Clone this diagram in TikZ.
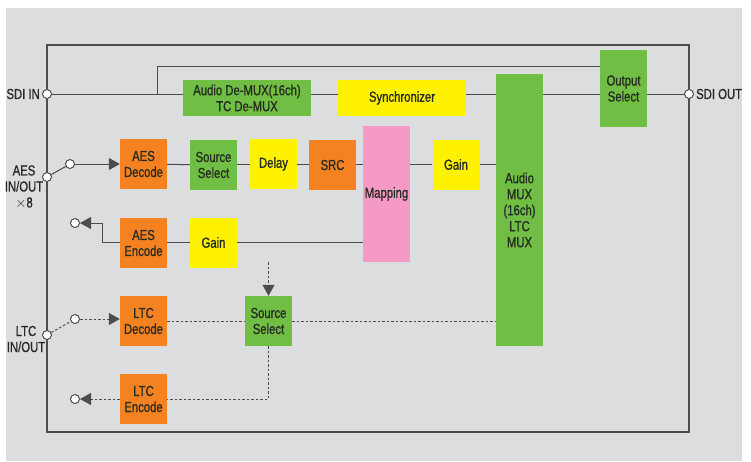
\documentclass[tikz,border=0pt]{standalone}
\usepackage{fontspec}
\setmainfont{Liberation Sans}[FakeStretch=0.78, FakeBold=1]
\usepackage{xcolor}
\definecolor{blkOrange}{HTML}{F58220}
\definecolor{blkGreen}{HTML}{70BF44}
\definecolor{blkYellow}{HTML}{FFF200}
\definecolor{blkPink}{HTML}{F49AC4}
\definecolor{blkBack}{HTML}{DCDDDF}
\definecolor{blkLine}{HTML}{4D4D4F}
\definecolor{blkText}{HTML}{262B22}
\usepackage{tikz}
\usetikzlibrary{arrows.meta,positioning}

\begin{document}
\begin{tikzpicture}[x=1pt, y=-1pt,
  blk/.style={inner sep=0pt, align=center, text=blkText, minimum width=47pt, minimum height=50pt},
  port/.style={circle, draw=blkLine, fill=white, line width=1pt, minimum size=9pt, inner sep=0pt},
  lbl/.style={inner sep=0pt, align=center, text=blkText},
  sig/.style={blkLine, line width=1pt},
  sigdash/.style={blkLine, line width=1pt, dash pattern=on 2.5pt off 2pt},
  tip/.style={-{Triangle[length=11pt,width=12pt]}}]
  \useasboundingbox (0,0) rectangle (751,461);
  \fill[blkBack] (6,8) rectangle (742,461);
  \fontsize{14.5}{16}\selectfont
  % ---------- frame ----------
  \draw[blkLine, line width=1.5pt] (47,45) rectangle (689,432);
  % ---------- blocks ----------
  \node[blk, fill=blkGreen, minimum width=128pt, minimum height=36pt] (demux) at (247,98) {Audio De-MUX(16ch)\\TC De-MUX};
  \node[blk, fill=blkYellow, minimum width=128pt, minimum height=36pt] (sync) at (402,98) {Synchronizer};
  \node[blk, fill=blkGreen, minimum height=272pt] (mux) at (519.5,210) {Audio\\MUX\\(16ch)\\LTC\\MUX};
  \node[blk, fill=blkGreen, minimum height=77pt] (outsel) at (623.5,88.5) {Output\\Select};
  \node[blk, fill=blkOrange] (aesdec) at (143.5,164) {AES\\Decode};
  \node[blk, fill=blkGreen] (aessel) at (213.5,165) {Source\\Select};
  \node[blk, fill=blkYellow] (delay) at (273.5,164) {Delay};
  \node[blk, fill=blkOrange] (src) at (332.5,165) {SRC};
  \node[blk, fill=blkPink, minimum height=136pt] (map) at (386.5,194) {Mapping};
  \node[blk, fill=blkYellow] (gainin) at (456,164.5) {Gain};
  \node[blk, fill=blkOrange] (aesenc) at (143.5,243) {AES\\Encode};
  \node[blk, fill=blkYellow] (gainout) at (213.5,242.5) {Gain};
  \node[blk, fill=blkOrange] (ltcdec) at (143.5,321) {LTC\\Decode};
  \node[blk, fill=blkGreen] (ltcsel) at (268.5,321) {Source\\Select};
  \node[blk, fill=blkOrange] (ltcenc) at (143.5,399) {LTC\\Encode};
  % ---------- SDI path ----------
  \node[port] (sdiin) at (47,94) {};
  \node[port] (sdiout) at (689,94) {};
  \node[lbl, left=2pt of sdiin] (sdiinlbl) {SDI IN};
  \node[lbl, right=2pt of sdiout] (sdioutlbl) {SDI OUT};
  \coordinate (bypass) at (157,94);
  \draw[sig] (sdiin.east) -- (sdiin.east -| demux.west);
  \draw[sig] (demux.east |- sdiin) -- (sync.west |- sdiin);
  \draw[sig] (sync.east |- sdiin) -- (mux.west |- sdiin);
  \draw[sig] (mux.east |- sdiin) -- (outsel.west |- sdiin);
  \draw[sig] (outsel.east |- sdiin) -- (sdiout.west);
  \draw[sig] (bypass) |- (outsel.west |- 0,66);
  % ---------- AES ----------
  \node[port] (aesio) at (47,177) {};
  \node[port] (aesin) at (70,164) {};
  \node[port] (aesout) at (75,223) {};
  \node[lbl, text width=40pt] (aeslbl) at (24,187) {AES\\IN/OUT\\${\times}$8};
  \draw[sig] (aesio) -- (aesin);
  \draw[sig, tip] (aesin) -- (aesdec);
  \draw[sig] (aesdec) -- (aessel);
  \draw[sig] (aessel.east |- aesdec) -- (delay);
  \draw[sig] (delay.east) -- (src.west |- delay);
  \draw[sig] (src.east |- delay) -- (map.west |- delay);
  \draw[sig] (map.east |- delay) -- (gainin.west |- delay);
  \draw[sig] (gainin.east |- delay) -- (mux.west |- delay);
  \draw[sig] (map.west |- gainout) -- (gainout);
  \draw[sig] (gainout) -- (aesenc.east |- gainout);
  \draw[sig, tip] (aesenc.west |- gainout) -- ++(-17,0) |- (aesout);
  % ---------- LTC ----------
  \node[port] (ltcio) at (47,335) {};
  \node[port] (ltcin) at (75,319) {};
  \node[port] (ltcout) at (75,399) {};
  \node[lbl] (ltclbl) at (26,339) {LTC\\IN/OUT};
  \coordinate (ltcref) at (268.5,262);
  \draw[sigdash] (ltcio) -- (ltcin);
  \draw[sigdash, tip] (ltcin) -- (ltcdec.west |- ltcin);
  \draw[sigdash] (ltcdec) -- (ltcsel);
  \draw[sigdash] (ltcsel) -- (mux.west |- ltcsel);
  \draw[sigdash, tip] (ltcref) -- (ltcsel);
  \draw[sigdash] (ltcsel.south) |- (ltcenc.east);
  \draw[sigdash, tip] (ltcenc) -- (ltcout);
\end{tikzpicture}
\end{document}
